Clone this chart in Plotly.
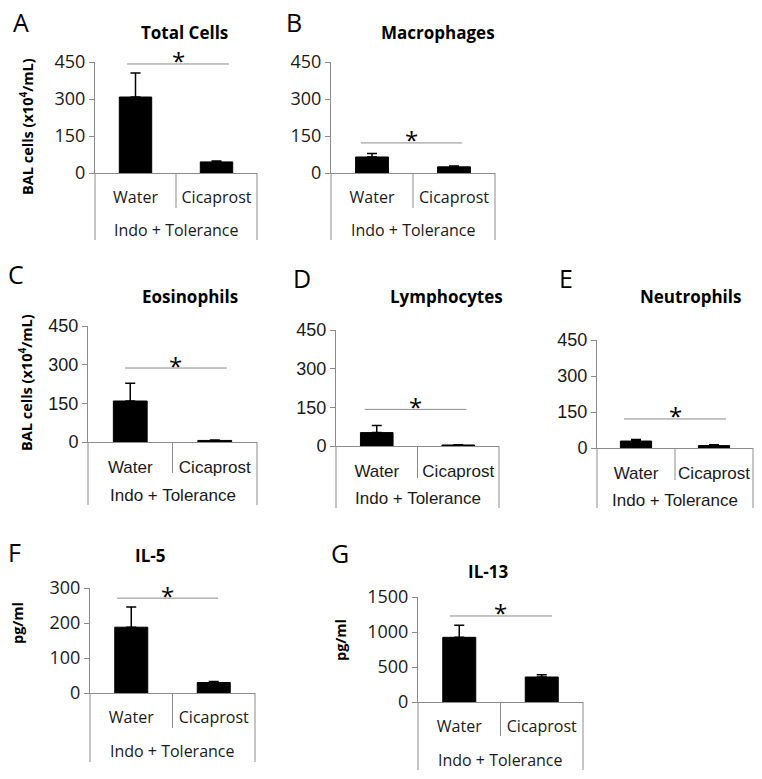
import plotly.graph_objects as go

# ---------------- data ----------------
categories = ["Water", "Cicaprost"]
group_label = "Indo + Tolerance"

total_cells = [308, 45]
total_cells_err = [97, 4]
macrophages = [65, 25]
macrophages_err = [14, 3]
eosinophils = [159, 6]
eosinophils_err = [69, 2]
lymphocytes = [52, 4]
lymphocytes_err = [28, 1]
neutrophils = [29, 10]
neutrophils_err = [6, 4]
il5 = [188, 30]
il5_err = [58, 3]
il13 = [924, 357]
il13_err = [171, 33]

cell_ticks = [0, 150, 300, 450]
il5_ticks = [0, 100, 200, 300]
il13_ticks = [0, 500, 1000, 1500]

panel_titles = ["Total Cells", "Macrophages", "Eosinophils", "Lymphocytes", "Neutrophils", "IL-5", "IL-13"]
panel_letters = ["A", "B", "C", "D", "E", "F", "G"]
cells_label = "BAL cells (x10<sup>4</sup>/mL)"
conc_label = "pg/ml"
sig_mark = "*"

# ---------------- layout helpers ----------------
W, H = 762, 779
GREY = "#8c8c8c"
CAL = "Open Sans"
ARI = "Liberation Sans"


def fx(p):
    return p / W


def fy(p):
    return 1 - p / H


series = [
    (total_cells, total_cells_err, cell_ticks),
    (macrophages, macrophages_err, cell_ticks),
    (eosinophils, eosinophils_err, cell_ticks),
    (lymphocytes, lymphocytes_err, cell_ticks),
    (neutrophils, neutrophils_err, cell_ticks),
    (il5, il5_err, il5_ticks),
    (il13, il13_err, il13_ticks),
]

# pixel geometry per panel
geom = [
    dict(xl=95, xr=257, yz=173, yt=62, inner=208, bot=240, indo=230, title=(184, 32), letter=(21, 22),
         ylab=(26, 127, cells_label), sig=(442, 0.198, 0.827), font=CAL, tsize=16, ysize=18),
    dict(xl=331, xr=495, yz=173, yt=62, inner=208, bot=240, indo=230, title=(438, 32), letter=(294, 22),
         ylab=None, sig=(122, 0.183, 0.80), font=CAL, tsize=16, ysize=18),
    dict(xl=88, xr=257, yz=442, yt=326, inner=473, bot=505, indo=495, title=(190, 297), letter=(16, 274),
         ylab=(25, 383, cells_label), sig=(287, 0.219, 0.822), font=ARI, tsize=17, ysize=18),
    dict(xl=336, xr=499, yz=446, yt=330, inner=478, bot=508, indo=498, title=(446, 297), letter=(302, 278),
         ylab=None, sig=(142, 0.177, 0.80), font=ARI, tsize=17, ysize=18),
    dict(xl=597, xr=753, yz=448, yt=340, inner=480, bot=508, indo=500, title=(690, 297), letter=(566, 278),
         ylab=None, sig=(121, 0.173, 0.827), font=ARI, tsize=17, ysize=18),
    dict(xl=90, xr=255, yz=693, yt=588, inner=728, bot=762, indo=751, title=(150, 555), letter=(14, 552),
         ylab=(17, 623, conc_label), sig=(271, 0.164, 0.776), font=CAL, tsize=16, ysize=18),
    dict(xl=418, xr=583, yz=702, yt=597, inner=736, bot=770, indo=760, title=(488, 571), letter=(340, 553),
         ylab=(340, 640, conc_label), sig=(1229, 0.194, 0.812), font=CAL, tsize=16, ysize=18),
]

fig = go.Figure()
layout = dict(
    template="none",
    width=W, height=H,
    autosize=False,
    margin=dict(l=0, r=0, t=0, b=0, pad=0, autoexpand=False),
    paper_bgcolor="white", plot_bgcolor="white",
    showlegend=False,
)
shapes = []
annotations = []

for i, ((vals, errs, ticks), g) in enumerate(zip(series, geom), start=1):
    sfx = "" if i == 1 else str(i)
    xref, yref = "x" + sfx, "y" + sfx
    fig.add_trace(go.Bar(
        x=categories, y=vals,
        xaxis=xref, yaxis=yref,
        marker=dict(color="black", line=dict(color="black", width=1)),
        width=0.4,
        error_y=dict(type="data", array=errs, arrayminus=[0] * len(errs), symmetric=False,
                     color="black", thickness=1.5, width=5),
    ))
    tfont = dict(family=g["font"], size=g["tsize"], color="#1a1a1a")
    yfont = dict(family=g["font"], size=g["ysize"], color="#1a1a1a")
    layout["xaxis" + sfx] = dict(
        domain=[fx(g["xl"]), fx(g["xr"])], anchor=yref, automargin=False,
        type="category", categoryorder="array", categoryarray=categories,
        range=[-0.5, 1.5], showline=True, linecolor=GREY, linewidth=1,
        ticks="outside", ticklen=10, tickcolor="rgba(0,0,0,0)",
        tickfont=tfont, showgrid=False, zeroline=False, fixedrange=True,
    )
    layout["yaxis" + sfx] = dict(
        domain=[fy(g["yz"]), fy(g["yt"])], anchor=xref, automargin=False,
        range=[0, ticks[-1]], tickvals=ticks, showline=True, linecolor=GREY, linewidth=1,
        ticks="outside", ticklen=5, tickcolor=GREY, tickfont=yfont,
        showgrid=False, zeroline=False, fixedrange=True,
    )
    dref = xref + " domain"
    # category dividers
    for d, yb in [(0, g["bot"]), (0.5, g["inner"]), (1, g["bot"])]:
        shapes.append(dict(type="line", xref=dref, yref="paper", x0=d, x1=d,
                           y0=fy(g["yz"]), y1=fy(yb), line=dict(color=GREY, width=1)))
    # group label
    annotations.append(dict(text=group_label, xref=dref, yref="paper", x=0.5, y=fy(g["indo"]),
                            showarrow=False, xanchor="center", yanchor="middle", font=tfont))
    # significance bar
    sy, sx0, sx1 = g["sig"]
    shapes.append(dict(type="line", xref=dref, yref=yref, x0=sx0, x1=sx1, y0=sy, y1=sy,
                       line=dict(color=GREY, width=1)))
    annotations.append(dict(text=sig_mark, xref=dref, yref=yref, x=(sx0 + sx1) / 2, y=sy,
                            showarrow=False, xanchor="center", yanchor="middle", yshift=3,
                            font=dict(family=CAL, size=24, color="black")))
    # title
    tx, ty = g["title"]
    annotations.append(dict(text=panel_titles[i - 1], xref="paper", yref="paper", x=fx(tx), y=fy(ty),
                            showarrow=False, xanchor="center", yanchor="middle",
                            font=dict(family=CAL, size=17, color="black", weight="bold")))
    # panel letter
    lx, ly = g["letter"]
    annotations.append(dict(text=panel_letters[i - 1], xref="paper", yref="paper", x=fx(lx), y=fy(ly),
                            showarrow=False, xanchor="center", yanchor="middle",
                            font=dict(family=CAL, size=25, color="black")))
    # y axis label
    if g["ylab"]:
        yx, yy, txt = g["ylab"]
        annotations.append(dict(text=txt, xref="paper", yref="paper", x=fx(yx), y=fy(yy),
                                showarrow=False, xanchor="center", yanchor="middle", textangle=-90,
                                font=dict(family=CAL, size=14.5, color="black", weight="bold")))

layout["shapes"] = shapes
layout["annotations"] = annotations
fig.update_layout(**layout)

pin_script = (
    "document.documentElement.style.margin='0';"
    "document.body.style.margin='0';"
    "document.documentElement.style.overflow='hidden';"
    "document.body.style.overflow='hidden';"
    "var gd=document.getElementById('{plot_id}');"
    "gd.style.position='fixed';gd.style.left='0px';gd.style.top='0px';"
)
fig.write_html("out.html", config={"displayModeBar": False}, post_script=pin_script)
